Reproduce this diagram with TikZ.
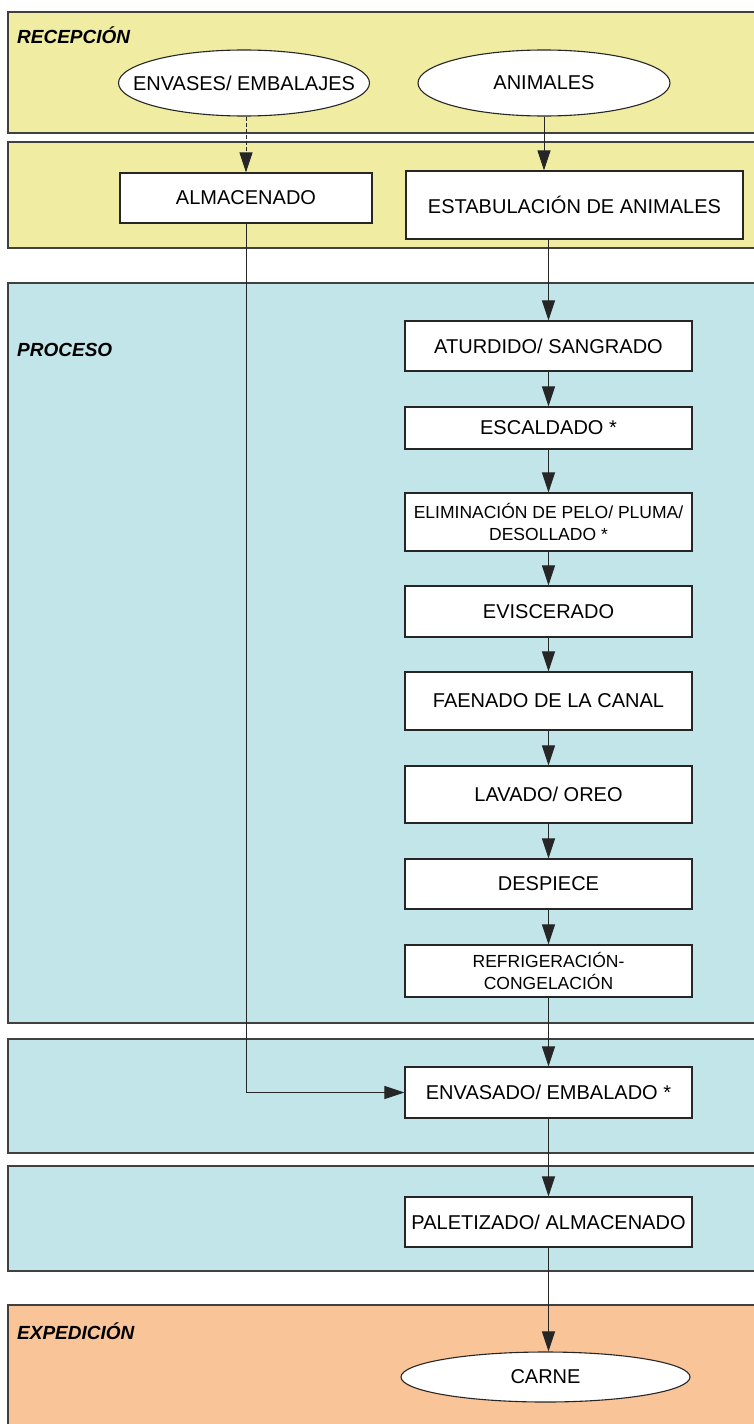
\documentclass[tikz,border=0pt]{standalone}
\usepackage{fontspec}
\setmainfont{Liberation Sans}
\usetikzlibrary{arrows.meta,shapes.geometric}
\definecolor{bandY}{RGB}{240,237,163}
\definecolor{bandB}{RGB}{194,229,234}
\definecolor{bandO}{RGB}{249,196,152}
\begin{document}
\begin{tikzpicture}[x=1pt,y=-1pt,
 band/.style={draw=black!75, line width=1.4pt},
 proc/.style={draw=black!85, fill=white, line width=1.1pt, rectangle, inner sep=0pt, align=center, font=\fontsize{20}{22}\selectfont},
 smalltxt/.style={font=\fontsize{17.5}{22}\selectfont},
 term/.style={ellipse, draw=black!85, fill=white, line width=1.1pt, inner sep=0pt, font=\fontsize{20}{22}\selectfont},
 lbl/.style={anchor=west, font=\fontsize{19}{22}\selectfont\bfseries\itshape, inner sep=0pt},
 flow/.style={draw=black!85, line width=0.9pt, -{Triangle[length=20pt,width=13pt]}}
]
\useasboundingbox (0,0) rectangle (753,1424);
\fill[white] (0,0) rectangle (753,1424);
% bands
\draw[band, fill=bandY] (8,12) rectangle (770,133);
\draw[band, fill=bandY] (8,142) rectangle (770,248);
\draw[band, fill=bandB] (8,283) rectangle (770,1023);
\draw[band, fill=bandB] (8,1039) rectangle (770,1153);
\draw[band, fill=bandB] (8,1166) rectangle (770,1271);
\draw[band, fill=bandO] (8,1305) rectangle (770,1440);
% band labels
\node[lbl] (lrec) at (17,35) {RECEPCIÓN};
\node[lbl] (lpro) at (17,350) {PROCESO};
\node[lbl] (lexp) at (17,1331) {EXPEDICIÓN};
% nodes
\node[term, minimum width=251pt, minimum height=66pt] (env) at (244,83) {\makebox[0pt]{ENVASES/ EMBALAJES}};
\node[term, minimum width=252pt, minimum height=66pt] (anim) at (544,83) {\makebox[0pt]{ANIMALES}};
\node[proc, minimum width=252pt, minimum height=50pt] (alm) at (246,198) {ALMACENADO};
\node[proc, minimum width=337pt, minimum height=68pt] (estab) at (574.5,205) {ESTABULACIÓN DE ANIMALES};
\node[proc, minimum width=287pt, minimum height=50pt] (atur) at (548.5,346) {ATURDIDO/ SANGRADO};
\node[proc, minimum width=287pt, minimum height=42pt] (esc) at (548.5,428) {ESCALDADO *};
\node[proc, smalltxt, minimum width=287pt, minimum height=58pt] (elim) at (548.5,522) {ELIMINACIÓN DE PELO/ PLUMA/\\DESOLLADO *};
\node[proc, minimum width=287pt, minimum height=51pt] (evis) at (548.5,611.5) {EVISCERADO};
\node[proc, minimum width=287pt, minimum height=58pt] (faen) at (548.5,701) {FAENADO DE LA CANAL};
\node[proc, minimum width=287pt, minimum height=57pt] (lav) at (548.5,794.5) {LAVADO/ OREO};
\node[proc, minimum width=287pt, minimum height=50pt] (desp) at (548.5,884) {DESPIECE};
\node[proc, smalltxt, minimum width=287pt, minimum height=52pt] (refr) at (548.5,971) {REFRIGERACIÓN-\\CONGELACIÓN};
\node[proc, minimum width=287pt, minimum height=51pt] (envas) at (548.5,1092.5) {ENVASADO/ EMBALADO *};
\node[proc, minimum width=287pt, minimum height=50pt] (palet) at (548.5,1222) {PALETIZADO/ ALMACENADO};
\node[term, minimum width=289pt, minimum height=50pt] (carne) at (545.5,1377) {\makebox[0pt]{CARNE}};
% connectors
\draw[flow, dash pattern=on 4pt off 2pt] (alm.north |- env.south) -- (alm.north);
\draw[flow] (anim.south) -- (anim.south |- estab.north);
\draw[flow] (atur.north |- estab.south) -- (atur.north);
\draw[flow] (atur) -- (esc);
\draw[flow] (esc) -- (elim);
\draw[flow] (elim) -- (evis);
\draw[flow] (evis) -- (faen);
\draw[flow] (faen) -- (lav);
\draw[flow] (lav) -- (desp);
\draw[flow] (desp) -- (refr);
\draw[flow] (refr) -- (envas);
\draw[flow] (envas) -- (palet);
\draw[flow] (palet.south) -- (palet.south |- carne.north);
\draw[flow] (alm.south) |- (envas.west);
\end{tikzpicture}
\end{document}
